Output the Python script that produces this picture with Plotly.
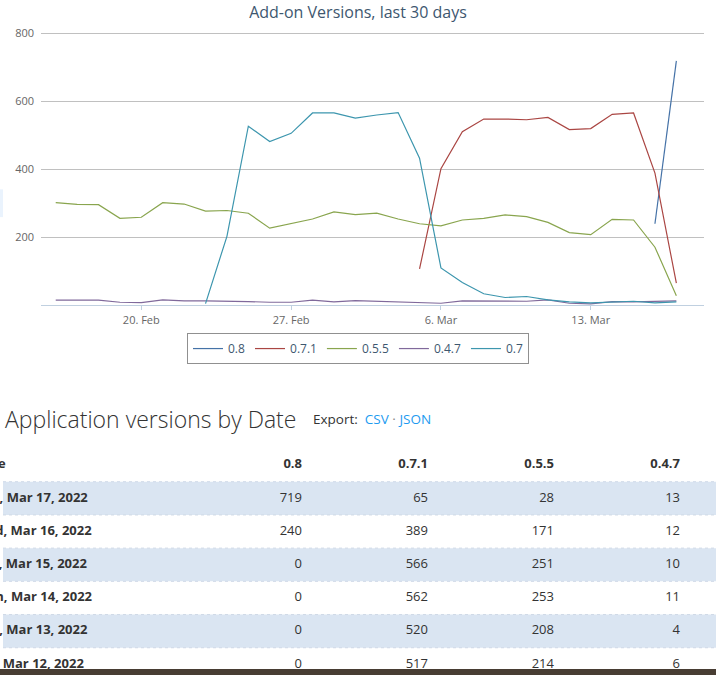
import pandas as pd
import plotly.graph_objects as go

W, H = 716, 675

# chart data, one value per day (None = no data that day)
dates = pd.date_range('2022-02-16', periods=30, freq='D')
versions = ['0.8', '0.7.1', '0.5.5', '0.4.7', '0.7']
v_08 = [None] * 28 + [240, 719]
v_071 = [None] * 17 + [107, 402, 511, 548, 548, 546, 553, 517, 520, 562, 566, 389, 65]
v_055 = [302, 297, 296, 256, 259, 302, 298, 277, 279, 271, 227, 240, 254, 275, 267,
         271, 254, 240, 234, 251, 256, 266, 261, 244, 214, 208, 253, 251, 171, 28]
v_047 = [15, 15, 15, 9, 8, 16, 13, 13, 13, 11, 9, 9, 15, 10, 14,
         12, 12, 9, 6, 13, 13, 14, 12, 16, 6, 4, 11, 10, 12, 13]
v_07 = [None] * 7 + [5, 203, 527, 482, 506, 566, 566, 551, 560, 567, 433, 110, 67,
                     34, 23, 26, 16, 10, 7, 9, 12, 7, 10]
series = [v_08, v_071, v_055, v_047, v_07]
colors = ['#4572A7', '#AA4643', '#89A54E', '#80699B', '#3D96AE']

x_tickvals = ['2022-02-20', '2022-02-27', '2022-03-06', '2022-03-13']
x_ticktext = ['20. Feb', '27. Feb', '6. Mar', '13. Mar']
y_tickvals = [200, 400, 600, 800]

# table below the chart
table_header = ['Date', '0.8', '0.7.1', '0.5.5', '0.4.7']
table_dates = ['Thu, Mar 17, 2022', 'Wed, Mar 16, 2022', 'Tue, Mar 15, 2022',
               'Mon, Mar 14, 2022', 'Sun, Mar 13, 2022', 'Sat, Mar 12, 2022']
t_08 = [719, 240, 0, 0, 0, 0]
t_071 = [65, 389, 566, 562, 520, 517]
t_055 = [28, 171, 251, 253, 208, 214]
t_047 = [13, 12, 10, 11, 4, 6]
table_cols = [t_08, t_071, t_055, t_047]


def px_x(p):
    return p / W


def px_y(p):
    return 1 - p / H


FONT = 'Open Sans'
TEXT = '#333333'

fig = go.Figure()

for name, vals, col in zip(versions, series, colors):
    fig.add_trace(go.Scatter(
        x=dates, y=vals, name=name, mode='lines',
        line=dict(color=col, width=1.2), connectgaps=False,
        xaxis='x', yaxis='y'
    ))

# table: column anchors in table-axis units (pixels across the page)
date_left = -25
num_right = [302, 428, 554, 680]
rows = list(range(1, len(table_dates) + 1))

fig.add_trace(go.Scatter(
    x=[date_left] * (len(rows) + 1), y=[0] + rows,
    text=['<b>%s</b>' % t for t in [table_header[0]] + table_dates],
    mode='text', textposition='middle right',
    textfont=dict(family=FONT, size=13, color=TEXT),
    xaxis='x2', yaxis='y2', showlegend=False, hoverinfo='skip', cliponaxis=True
))
for head, col_vals, xr in zip(table_header[1:], table_cols, num_right):
    fig.add_trace(go.Scatter(
        x=[xr] * (len(rows) + 1), y=[0] + rows,
        text=['<b>%s</b>' % head] + [str(v) for v in col_vals],
        mode='text', textposition='middle left',
        textfont=dict(family=FONT, size=13, color=TEXT),
        xaxis='x2', yaxis='y2', showlegend=False, hoverinfo='skip', cliponaxis=True
    ))

shapes = []
# shaded rows + dotted separators
for r in rows:
    if r % 2 == 1:
        shapes.append(dict(type='rect', xref='paper', yref='y2',
                           x0=px_x(3), x1=1, y0=r - 0.5, y1=r + 0.5,
                           fillcolor='#DAE5F2', line=dict(width=0), layer='below'))
for r in [0] + rows[:-1]:
    shapes.append(dict(type='line', xref='paper', yref='y2',
                       x0=px_x(3), x1=1, y0=r + 0.5, y1=r + 0.5,
                       line=dict(color='#CFD9E7', width=1, dash='dot'), layer='below'))
# light box peeking in at the left edge, dark footer strip at the bottom
shapes.append(dict(type='rect', xref='paper', yref='paper',
                   x0=0, x1=px_x(3), y0=px_y(213), y1=px_y(185),
                   fillcolor='#EAF3FD', line=dict(width=0)))
shapes.append(dict(type='rect', xref='paper', yref='paper',
                   x0=0, x1=1, y0=0, y1=px_y(669),
                   fillcolor='#483D33', line=dict(width=0), layer='above'))

annotations = [
    dict(text='Application versions by Date', x=px_x(3), y=px_y(417),
         xref='paper', yref='paper', xanchor='left', yanchor='middle', showarrow=False,
         font=dict(family=FONT, size=23, color=TEXT, weight=300)),
    dict(text='Export:&nbsp; <span style="color:#1E9BF0">CSV</span> '
              '<span style="color:#888">·</span> <span style="color:#1E9BF0">JSON</span>',
         x=px_x(311), y=px_y(417), xref='paper', yref='paper',
         xanchor='left', yanchor='middle', showarrow=False,
         font=dict(family=FONT, size=13.5, color=TEXT)),
]

# table axis: rows 0 (header) .. 6, 33.5px apart, header centred at 463px
row_h = 33.5
t_top, t_bot, r0 = 440, 669, 463.25

fig.update_layout(
    width=W, height=H, autosize=False,
    margin=dict(l=0, r=0, t=0, b=0),
    paper_bgcolor='white', plot_bgcolor='white',
    font=dict(family=FONT, color='#666666'),
    title=dict(text='Add-on Versions, last 30 days', x=0.5, xanchor='center',
               y=px_y(12), yanchor='middle',
               font=dict(family=FONT, size=16, color='#3E576F')),
    xaxis=dict(domain=[px_x(41), px_x(704)],
               range=['2022-02-15 07:30', '2022-03-18 07:00'],
               tickvals=x_tickvals, ticktext=x_ticktext,
               ticks='outside', ticklen=4, tickcolor='#C0D0E0',
               showline=True, linecolor='#C0D0E0', linewidth=1,
               showgrid=False, zeroline=False,
               tickfont=dict(size=11, color='#666666')),
    # a little headroom above 800 so its gridline is not dropped at the edge
    yaxis=dict(domain=[px_y(302), px_y(25.6)], range=[0, 806],
               tickvals=y_tickvals, gridcolor='#C0C0C0', gridwidth=1,
               zeroline=False, showline=False, ticks='',
               ticklabelstandoff=6,
               tickfont=dict(size=11, color='#666666')),
    xaxis2=dict(domain=[0, 1], range=[0, W], visible=False, anchor='y2'),
    yaxis2=dict(domain=[px_y(t_bot), px_y(t_top)],
                range=[(t_bot - r0) / row_h, (t_top - r0) / row_h],
                visible=False, anchor='x2'),
    legend=dict(orientation='h', x=0.5, xanchor='center', y=px_y(330), yanchor='top',
                bordercolor='#909090', borderwidth=1, bgcolor='white',
                font=dict(family=FONT, size=12, color='#3E576F'),
                itemwidth=30, tracegroupgap=0),
    shapes=shapes, annotations=annotations,
    hovermode=False,
)

# page body default margin would push the figure 8px off the window corner
fig.write_html('out.html', config={'displayModeBar': False},
               post_script="document.body.style.margin='0';")
